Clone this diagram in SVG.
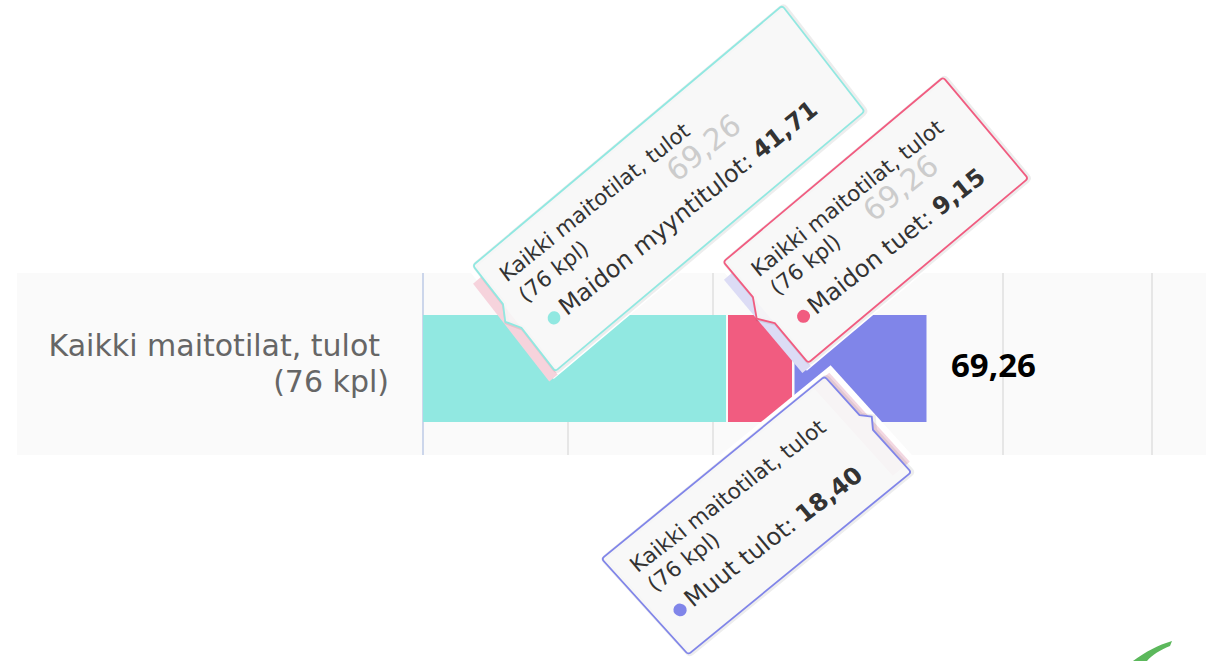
<svg xmlns="http://www.w3.org/2000/svg" width="1206" height="661" viewBox="0 0 1206 661">
  <defs>
    <style>
      .cat { font-family: "DejaVu Sans", Verdana, sans-serif; font-size: 30px; fill: #666666; }
      .total { font-family: "Open Sans", "DejaVu Sans", sans-serif; font-size: 33px; font-weight: 700; fill: #000000; }
      .grid { stroke: #e6e6e6; stroke-width: 2; }
      .axis { stroke: #ccd6eb; stroke-width: 2; }
      .tt { font-family: "DejaVu Sans", Verdana, sans-serif; fill: #333333; }
      .hdr { font-size: 21.5px; }
      .body { font-size: 24px; }
      .ghost { font-family: "DejaVu Sans", Verdana, sans-serif; font-size: 30px; fill: #cccccc; }
      .b { font-weight: 700; }
      .ttbody { fill: #f7f7f7; fill-opacity: 0.88; stroke-width: 1.8; stroke-linejoin: round; }
      .ttshadow { fill: none; stroke: #000000; stroke-opacity: 0.07; stroke-width: 5; }
      .patch { fill: #ffffff; }
    </style>
    <path id="shape1" d="M3,0 H401 Q404,0 404,3 V131 Q404,134 401,134 H3 Q0,134 0,131 V79 L-9,64 L0,49 V3 Q0,0 3,0 Z"/>
    <path id="shape2" d="M3,0 H284 Q287,0 287,3 V129 Q287,132 284,132 H3 Q0,132 0,129 V80 L-11,65 L0,46 V3 Q0,0 3,0 Z"/>
    <path id="shape3" d="M3,0 H285 Q288,0 288,3 V52 L296,61 L288,72 V126 Q288,129 285,129 H3 Q0,129 0,126 V3 Q0,0 3,0 Z"/>
  </defs>

  <rect width="1206" height="661" fill="#ffffff"/>

  <g id="plot-band">
    <rect x="17" y="273" width="1189" height="182" fill="#fafafa"/>
  </g>

  <g id="grid">
    <line class="grid" x1="568" y1="273" x2="568" y2="455"/>
    <line class="grid" x1="713" y1="273" x2="713" y2="455"/>
    <line class="grid" x1="858" y1="273" x2="858" y2="455"/>
    <line class="grid" x1="1003" y1="273" x2="1003" y2="455"/>
    <line class="grid" x1="1152" y1="273" x2="1152" y2="455"/>
    <line class="axis" x1="423" y1="273" x2="423" y2="455"/>
  </g>

  <g id="category-label">
    <text class="cat" x="380" y="356" text-anchor="end">Kaikki maitotilat, tulot</text>
    <text class="cat" x="389" y="392" text-anchor="end">(76 kpl)</text>
  </g>

  <g id="bars">
    <g id="bar-maidon-myyntitulot"><rect x="423" y="315" width="303" height="107" fill="#91e8e1"/></g>
    <g id="bar-maidon-tuet"><rect x="728" y="315" width="64" height="107" fill="#f15c80"/></g>
    <g id="bar-muut-tulot"><rect x="794.5" y="315" width="132" height="107" fill="#8085e9"/></g>
  </g>

  <g id="total-label">
    <text class="total" x="951" y="377">69,26</text>
  </g>

  <g id="tooltip-1" transform="matrix(0.7657,-0.6432,0.6143,0.7893,472.9,265.5)">
    <rect class="patch" x="-6" y="-5" width="415" height="144"/>
    <rect x="-11" y="14" width="11" height="124" fill="#f6d3dc"/>
    <use href="#shape1" class="ttshadow" transform="translate(1,1)"/>
    <use href="#shape1" class="ttbody" stroke="#91e8e1"/>
    <g transform="rotate(1.1,16,35)">
      <text class="ghost" x="212" y="64">69,26</text>
      <text class="tt hdr" x="16" y="35">Kaikki maitotilat, tulot</text>
      <text class="tt hdr" x="19" y="63">(76 kpl)</text>
      <circle cx="33" cy="92" r="6.5" fill="#91e8e1"/>
      <text class="tt body" x="44" y="99">Maidon myyntitulot: <tspan class="b">41,71</tspan></text>
    </g>
  </g>

  <g id="tooltip-2" transform="matrix(0.766,-0.643,0.643,0.766,723.35,261.85)">
    <rect class="patch" x="-6" y="-5" width="298" height="142"/>
    <rect x="-11" y="14" width="11" height="122" fill="#dcdcf5"/>
    <use href="#shape2" class="ttshadow" transform="translate(1,1)"/>
    <use href="#shape2" class="ttbody" stroke="#f15c80"/>
    <g transform="rotate(1.6,17,35)">
      <text class="ghost" x="141" y="63">69,26</text>
      <text class="tt hdr" x="17" y="35">Kaikki maitotilat, tulot</text>
      <text class="tt hdr" x="20" y="61">(76 kpl)</text>
      <circle cx="28" cy="93" r="6.5" fill="#f15c80"/>
      <text class="tt body" x="38" y="100">Maidon tuet: <tspan class="b">9,15</tspan></text>
    </g>
  </g>

  <g id="tooltip-3" transform="matrix(0.7743,-0.633,0.671,0.742,601.65,558.78)">
    <rect class="patch" x="-6" y="-5" width="306" height="139"/>
    <rect x="272" y="0" width="22" height="120" fill="#f3d8e2"/>
    <use href="#shape3" class="ttshadow" transform="translate(1,1)"/>
    <use href="#shape3" class="ttbody" stroke="#8085e9"/>
    <g transform="rotate(2.2,17,34)">
      <text class="tt hdr" x="17" y="34">Kaikki maitotilat, tulot</text>
      <text class="tt hdr" x="18" y="60">(76 kpl)</text>
      <circle cx="26" cy="89" r="6.5" fill="#8085e9"/>
      <text class="tt body" x="37" y="95">Muut tulot: <tspan class="b">18,40</tspan></text>
    </g>
  </g>

  <g id="logo-fragment">
    <path d="M1133,661 C1145,652 1158,645 1172,641 L1170,646 C1160,650 1152,655 1147,661 Z" fill="#5cb85c"/>
  </g>
</svg>
